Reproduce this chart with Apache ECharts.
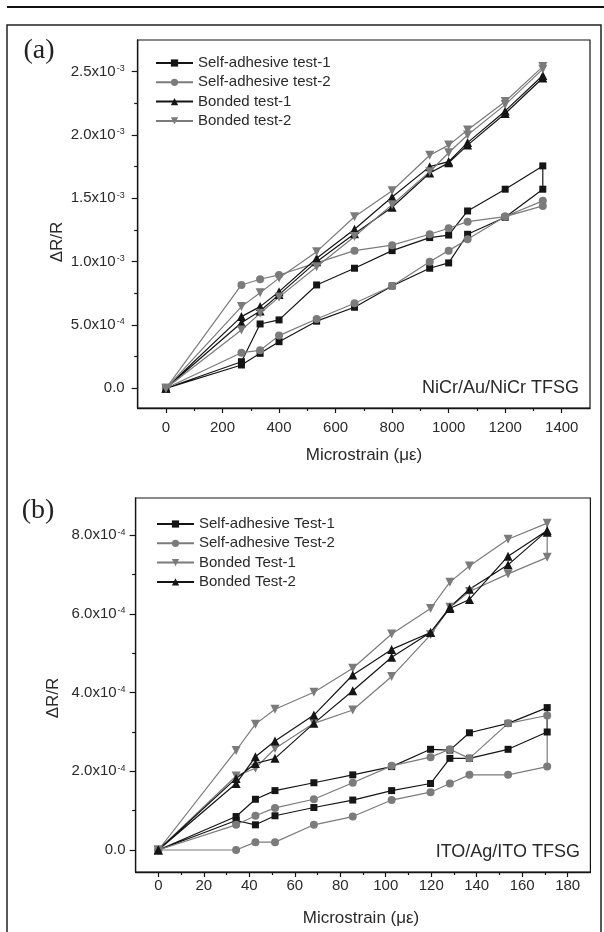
<!DOCTYPE html>
<html><head><meta charset="utf-8">
<script src="https://cdn.jsdelivr.net/npm/echarts@6/dist/echarts.min.js"></script>
<style>html,body{margin:0;padding:0;background:#fff}#c{width:604px;height:932px}</style>
</head><body><div id="c"></div>
<script>
// ---------- Panel (a): NiCr/Au/NiCr TFSG (ΔR/R values in units of 1e-3) ----------
const strainA = [0,267,333,400,533,667,800,933,1000,1067,1200,1333,1333,1200,1067,1000,933,800,667,533,400,333,267,0];
const saTest1A = [0,0.21,0.508,0.54,0.816,0.948,1.087,1.19,1.21,1.40,1.572,1.756, 1.572,1.35,1.216,0.99,0.948,0.808,0.64,0.53,0.368,0.276,0.184,0];
const saTest2A = [0,0.816,0.861,0.895,0.99,1.087,1.13,1.216,1.264,1.316,1.356,1.48, 1.44,1.356,1.177,1.087,1.0,0.808,0.671,0.547,0.416,0.30,0.281,0];
const bondTest1A = [0,0.566,0.645,0.763,1.027,1.256,1.51,1.75,1.79,1.94,2.19,2.47, 2.45,2.17,1.92,1.78,1.70,1.43,1.22,1.0,0.74,0.61,0.518,0];
const bondTest2A = [0,0.645,0.755,0.87,1.079,1.355,1.56,1.84,1.92,2.04,2.264,2.54, 2.52,2.24,2.0,1.86,1.71,1.45,1.198,0.96,0.72,0.592,0.46,0];
const namesA = ['Self-adhesive test-1','Self-adhesive test-2','Bonded test-1','Bonded test-2'];
const xTicksA = [0,200,400,600,800,1000,1200,1400];
const xMinorA = [100,300,500,700,900,1100,1300];
const yTicksA = [0,0.0005,0.001,0.0015,0.002,0.0025];
const yMinorA = [0.00025,0.00075,0.00125,0.00175,0.00225];

// ---------- Panel (b): ITO/Ag/ITO TFSG (ΔR/R values in units of 1e-4) ----------
const strainB = [0,34.2,42.7,51.3,68.4,85.5,102.6,119.7,128.2,136.8,153.8,171,171,153.8,136.8,128.2,119.7,102.6,85.5,68.4,51.3,42.7,34.2,0];
const saTest1B = [0,0.85,1.29,1.51,1.71,1.91,2.12,2.56,2.54,2.98,3.22,3.62, 3.0,2.56,2.33,2.33,1.69,1.51,1.27,1.08,0.87,0.64,0.75,0];
const saTest2B = [0,0.64,0.87,1.07,1.29,1.71,2.14,2.36,2.56,2.33,3.22,3.42, 2.12,1.91,1.91,1.69,1.47,1.27,0.85,0.64,0.20,0.20,0.0,0];
const bondTest1B = [0,2.53,3.20,3.58,4.01,4.62,5.49,6.14,6.81,7.22,7.9,8.31, 7.44,7.02,6.57,6.17,5.47,4.41,3.56,3.22,2.58,2.08,1.88,0];
const bondTest2B = [0,1.69,2.37,2.77,3.43,4.45,5.10,5.53,6.14,6.37,7.47,8.12, 8.08,7.25,6.63,6.17,5.53,4.90,4.05,3.22,2.33,2.20,1.82,0];
const namesB = ['Self-adhesive Test-1','Self-adhesive Test-2','Bonded Test-1','Bonded Test-2'];
const xTicksB = [0,20,40,60,80,100,120,140,160,180];
const xMinorB = [10,30,50,70,90,110,130,150,170];
const yTicksB = [0,0.0002,0.0004,0.0006,0.0008];
const yMinorB = [0.0001,0.0003,0.0005,0.0007];

const FONT = 'Liberation Sans, Arial, Helvetica, sans-serif';
const BLACK = '#151515', GREY = '#7b7b7b', TXT = '#2a2a2a';

function sciLabel(v){
  if (Math.abs(v) < 1e-12) return '0.0';
  const e = Math.floor(Math.log10(v) + 1e-9);
  const m = v / Math.pow(10, e);
  return '{m|' + m.toFixed(1) + 'x10}{e|' + e + '}';
}
const rich = {
  m: {fontSize: 15, color: TXT, fontFamily: FONT},
  e: {fontSize: 9, color: TXT, fontFamily: FONT, verticalAlign: 'top', padding: [0,0,0,1]}
};

function xAx(grid, min, max, ticks, minor, margin){
  return [{
    gridIndex: grid, type: 'value', min, max, position: 'bottom',
    axisLine: {show: true, onZero: false, lineStyle: {color: BLACK, width: 1.3}},
    axisTick: {show: true, customValues: ticks, length: 5, lineStyle: {color: BLACK, width: 1.2}},
    axisLabel: {show: true, customValues: ticks, margin, fontSize: 15, color: TXT, fontFamily: FONT,
      formatter: v => String(Math.round(v))},
    splitLine: {show: false}
  },{
    gridIndex: grid, type: 'value', min, max, position: 'bottom',
    axisLine: {show: false, onZero: false},
    axisTick: {show: true, customValues: minor, length: 3, lineStyle: {color: BLACK, width: 1.2}},
    axisLabel: {show: false}, splitLine: {show: false}
  }];
}
function yAx(grid, min, max, ticks, minor, margin){
  return [{
    gridIndex: grid, type: 'value', min, max, position: 'left',
    axisLine: {show: true, onZero: false, lineStyle: {color: BLACK, width: 1.3}},
    axisTick: {show: true, customValues: ticks, length: 6, lineStyle: {color: BLACK, width: 1.2}},
    axisLabel: {show: true, customValues: ticks, margin, fontSize: 15, color: TXT, fontFamily: FONT,
      formatter: sciLabel, rich},
    splitLine: {show: false}
  },{
    gridIndex: grid, type: 'value', min, max, position: 'left',
    axisLine: {show: false, onZero: false},
    axisTick: {show: true, customValues: minor, length: 3.5, lineStyle: {color: BLACK, width: 1.2}},
    axisLabel: {show: false}, splitLine: {show: false}
  }];
}

function mk(name, xs, ys, scale, color, symbol, rot, size, xi, yi){
  return {
    type: 'line', name, xAxisIndex: xi, yAxisIndex: yi,
    data: xs.map((x, i) => [x, ys[i] * scale]),
    symbol, symbolRotate: rot, symbolSize: size, showSymbol: true,
    itemStyle: {color, borderWidth: 0},
    lineStyle: {color, width: 1.2},
    emphasis: {disabled: true}, animation: false
  };
}

const series = [
  mk(namesA[0], strainA, saTest1A, 1e-3, BLACK, 'rect', 0, 7, 0, 0),
  mk(namesA[1], strainA, saTest2A, 1e-3, GREY, 'circle', 0, 8, 0, 0),
  mk(namesA[2], strainA, bondTest1A, 1e-3, BLACK, 'triangle', 0, 9, 0, 0),
  mk(namesA[3], strainA, bondTest2A, 1e-3, GREY, 'triangle', 180, 9, 0, 0),
  mk(namesB[0], strainB, saTest1B, 1e-4, BLACK, 'rect', 0, 7, 2, 2),
  mk(namesB[1], strainB, saTest2B, 1e-4, GREY, 'circle', 0, 8, 2, 2),
  mk(namesB[2], strainB, bondTest1B, 1e-4, GREY, 'triangle', 180, 9, 2, 2),
  mk(namesB[3], strainB, bondTest2B, 1e-4, BLACK, 'triangle', 0, 9, 2, 2)
];

function legend(names, left, top){
  return {
    data: names, orient: 'vertical', left, top, padding: 0,
    itemWidth: 37, itemHeight: 9, itemGap: 3.3, selectedMode: false,
    textStyle: {fontSize: 15, lineHeight: 16, color: TXT, fontFamily: FONT}
  };
}

function txt(text, x, y, size, opts){
  opts = opts || {};
  return {
    type: 'text', x, y, rotation: opts.rot || 0, silent: true,
    style: {text, fontSize: size, fontFamily: opts.family || FONT, fill: opts.color || TXT,
      textAlign: opts.align || 'center', textVerticalAlign: 'middle',
      align: opts.align || 'center', verticalAlign: 'middle'}
  };
}

const chart = echarts.init(document.getElementById('c'), null, {renderer: 'canvas'});
chart.setOption({
  animation: false,
  backgroundColor: '#fff',
  grid: [
    {left: 137.7, top: 40, width: 452.3, height: 368, show: true, borderColor: BLACK, borderWidth: 1.2,
     backgroundColor: 'transparent', containLabel: false, outerBoundsMode: 'none'},
    {left: 135.6, top: 498, width: 454.8, height: 374, show: true, borderColor: BLACK, borderWidth: 1.2,
     backgroundColor: 'transparent', containLabel: false, outerBoundsMode: 'none'}
  ],
  xAxis: [].concat(xAx(0, -100, 1500, xTicksA, xMinorA, 12), xAx(1, -10, 190, xTicksB, xMinorB, 6)),
  yAxis: [].concat(yAx(0, -1.555e-4, 2.75e-3, yTicksA, yMinorA, 13), yAx(1, -0.5593e-4, 0.8949e-3, yTicksB, yMinorB, 10)),
  legend: [legend(namesA, 155, 55), legend(namesB, 156, 516)],
  series,
  graphic: [
    {type: 'rect', silent: true, shape: {x: 7, y: 6, width: 597, height: 2}, style: {fill: '#111'}},
    {type: 'rect', silent: true, shape: {x: 7, y: 25, width: 594, height: 920}, style: {fill: 'none', stroke: '#222', lineWidth: 1.5}},
    txt('(a)', 39, 51, 28, {family: 'Liberation Serif, Times New Roman, serif', color: '#222'}),
    txt('(b)', 38, 511, 28, {family: 'Liberation Serif, Times New Roman, serif', color: '#222'}),
    txt('ΔR/R', 57, 242, 17, {rot: Math.PI / 2}),
    txt('ΔR/R', 53, 698, 17, {rot: Math.PI / 2}),
    txt('Microstrain (με)', 364, 455, 17),
    txt('Microstrain (με)', 361, 918, 17),
    txt('NiCr/Au/NiCr TFSG', 579, 388, 18, {align: 'right'}),
    txt('ITO/Ag/ITO TFSG', 580, 852, 18, {align: 'right'})
  ]
});
</script>
</body></html>
